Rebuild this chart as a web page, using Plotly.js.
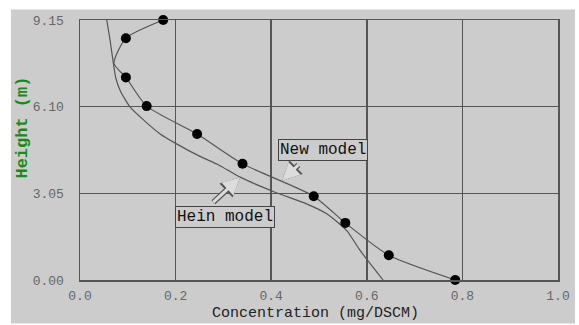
<!DOCTYPE html>
<html>
<head>
<meta charset="utf-8">
<script src="https://cdn.plot.ly/plotly-3.0.1.min.js"></script>
<style>html,body{margin:0;padding:0;background:#fff;}#chart{width:579px;height:325px;}</style>
</head>
<body>
<div id="chart"></div>
<script>
// Measured points (markers)
var measX = [0.785, 0.646, 0.555, 0.489, 0.340, 0.245, 0.1395, 0.096, 0.096, 0.174];
var measY = [0.00, 0.87, 2.01, 2.95, 4.09, 5.14, 6.12, 7.13, 8.51, 9.15];
// New model curve
var newX = [0.785, 0.646, 0.555, 0.489, 0.340, 0.245, 0.1395, 0.096, 0.071, 0.096, 0.174];
var newY = [0.00, 0.87, 2.01, 2.95, 4.09, 5.14, 6.12, 7.13, 7.62, 8.51, 9.15];
// Hein model curve
var heinX = [0.056, 0.063, 0.070, 0.075, 0.084, 0.105, 0.135, 0.167, 0.202, 0.251, 0.290, 0.335, 0.408, 0.474, 0.516, 0.558, 0.586, 0.634];
var heinY = [9.15, 8.43, 7.60, 7.10, 6.67, 6.08, 5.60, 5.15, 4.79, 4.35, 4.05, 3.62, 3.09, 2.68, 2.33, 1.74, 1.04, 0.00];
// Ticks
var xTicks = [0, 0.2, 0.4, 0.6, 0.8, 1.0];
var xTickText = ["0.0", "0.2", "0.4", "0.6", "0.8", "1.0"];
var yTicks = [0, 3.05, 6.10, 9.15];
var yTickText = ["0.00", "3.05", "6.10", "9.15"];

var bg = '#cccccc';
var mono = '"Liberation Mono", "DejaVu Sans Mono", monospace';

var traces = [
  {x: heinX, y: heinY, mode: 'lines', line: {color: '#555', width: 1.2, shape: 'spline', smoothing: 0.6}, hoverinfo: 'skip', showlegend: false},
  {x: newX, y: newY, mode: 'lines', line: {color: '#555', width: 1.2, shape: 'spline', smoothing: 0.6}, hoverinfo: 'skip', showlegend: false},
  {x: measX, y: measY, mode: 'markers', marker: {color: '#000', size: 10}, cliponaxis: false, showlegend: false}
];

function arrow(tx, ty, hx, hy, color, w, size) {
  return {x: hx, y: hy, ax: tx, ay: ty, xref: 'x', yref: 'y', axref: 'x', ayref: 'y',
    text: '', showarrow: true, arrowhead: 2, arrowsize: size, arrowwidth: w, arrowcolor: color, arrowside: 'end'};
}

var layout = {
  width: 579, height: 325,
  margin: {l: 80, r: 21, t: 20, b: 45, pad: 0},
  paper_bgcolor: '#ffffff',
  plot_bgcolor: bg,
  xaxis: {range: [0, 1], tickvals: xTicks, ticktext: xTickText, showgrid: true, gridcolor: '#555', gridwidth: 1.5,
    zeroline: false, showline: true, mirror: true, linecolor: '#555', linewidth: 1.5,
    ticks: 'outside', ticklen: 3, tickcolor: 'rgba(0,0,0,0)',
    tickfont: {family: mono, size: 13, color: '#666'}},
  yaxis: {range: [0, 9.15], tickvals: yTicks, ticktext: yTickText, showgrid: true, gridcolor: '#555', gridwidth: 1.5,
    zeroline: false, showline: true, mirror: true, linecolor: '#555', linewidth: 1.5,
    ticks: 'outside', ticklen: 12, tickcolor: 'rgba(0,0,0,0)',
    tickfont: {family: mono, size: 13, color: '#666'}},
  shapes: [
    {type: 'rect', xref: 'paper', yref: 'paper', x0: -0.1444, x1: 1.0356, y0: -0.167, y1: 1.040,
     fillcolor: bg, line: {width: 0}, layer: 'below'}
  ],
  annotations: [
    arrow(0.460, 4.10, 0.423, 3.50, '#555', 5.5, 0.7),
    arrow(0.460, 4.10, 0.423, 3.50, '#dcdcdc', 3, 1.15),
    arrow(0.276, 2.69, 0.335, 3.61, '#555', 5.5, 0.7),
    arrow(0.276, 2.69, 0.335, 3.61, '#dcdcdc', 3, 1.15),
    {x: 0.509, y: 4.575, xref: 'x', yref: 'y', text: 'New model', showarrow: false,
     font: {family: mono, size: 16, color: '#111'}, bgcolor: bg, bordercolor: '#444', borderwidth: 1, borderpad: 1},
    {x: 0.304, y: 2.23, xref: 'x', yref: 'y', text: 'Hein model', showarrow: false,
     font: {family: mono, size: 16, color: '#111'}, bgcolor: bg, bordercolor: '#444', borderwidth: 1, borderpad: 1},
    {x: 0.492, y: -0.129, xref: 'paper', yref: 'paper', text: 'Concentration (mg/DSCM)', showarrow: false,
     xanchor: 'center', yanchor: 'middle', font: {family: mono, size: 15, color: '#222'}},
    {x: -0.121, y: 0.587, xref: 'paper', yref: 'paper', text: '<b>Height (m)</b>', showarrow: false, textangle: -90,
     xanchor: 'center', yanchor: 'middle', font: {family: mono, size: 17, color: '#1a8a1a'}}
  ]
};

Plotly.newPlot('chart', traces, layout, {displayModeBar: false, staticPlot: true});
</script>
</body>
</html>
